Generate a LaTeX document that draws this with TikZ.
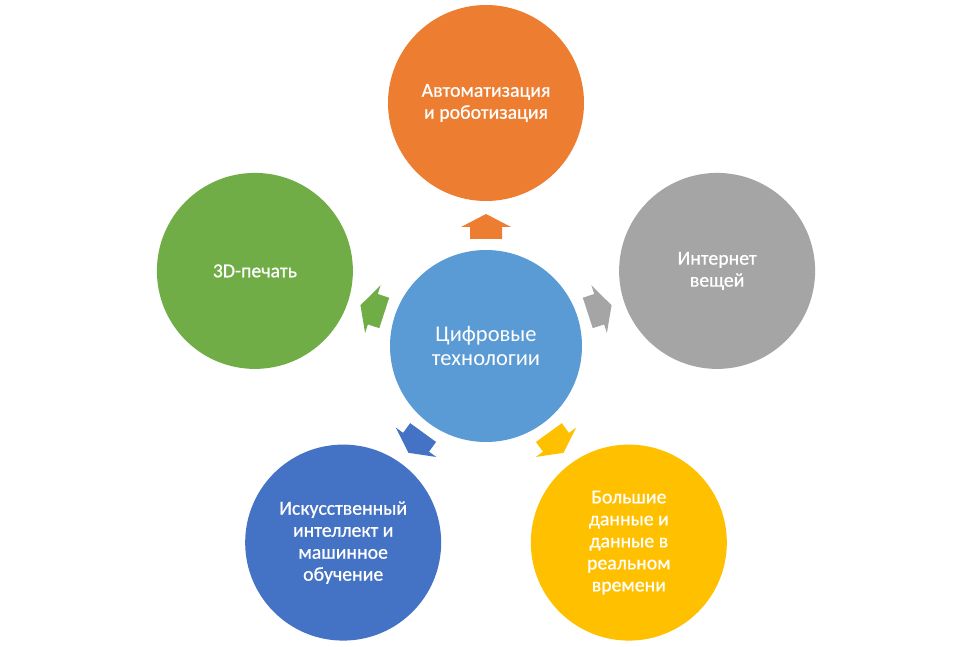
\documentclass[tikz,border=0pt]{standalone}
\usepackage{fontspec}
\setmainfont{Carlito}[BoldFont=Carlito, BoldFeatures={FakeBold=0.7}]
\usetikzlibrary{calc}
\begin{document}
\begin{tikzpicture}[x=1pt,y=1pt,
  bub/.style={circle, inner sep=0pt, minimum size=196pt, text=white, align=center,
    font=\fontsize{19.8}{22}\selectfont\bfseries},
  hub/.style={circle, inner sep=0pt, minimum size=192pt, text=white, align=center,
    font=\fontsize{22.5}{23.5}\selectfont, fill=cCenter},
  blockarrow/.style={fill=#1, draw=none}
]
\definecolor{cCenter}{HTML}{5B9BD5}
\definecolor{cOrange}{HTML}{ED7D31}
\definecolor{cGray}{HTML}{A5A5A5}
\definecolor{cGreen}{HTML}{70AD47}
\definecolor{cBlue}{HTML}{4472C4}
\definecolor{cYellow}{HTML}{FFC000}
\useasboundingbox (0,0) rectangle (971,646);
\fill[white] (0,0) rectangle (971,646);

\node[hub] (c) at (486,300) {Цифровые\\технологии};

\node[bub, fill=cOrange] (o) at ($(c.center)+(90:243)$) {Автоматизация\\и роботизация};
\node[bub, fill=cGray]   (g) at ($(c.center)+(18:243)$) {Интернет\\вещей};
\node[bub, fill=cGreen]  (p) at ($(c.center)+(162:243)$) {3D-печать};
\node[bub, fill=cBlue]   (a) at ($(c.center)+(234:243)$) {Искусственный\\интеллект и\\машинное\\обучение};
\node[bub, fill=cYellow] (b) at ($(c.center)+(306:243)$) {Большие\\данные и\\данные в\\реальном\\времени};

\foreach \ang/\col in {90/cOrange, 18/cGray, 162/cGreen, 234/cBlue, 306/cYellow}{
  \begin{scope}[shift={(c.center)}, rotate=\ang]
    \fill[blockarrow=\col] (107,16) -- (119,16) -- (119,25) -- (132,0) -- (119,-25) -- (119,-16) -- (107,-16) -- cycle;
  \end{scope}
}
\end{tikzpicture}
\end{document}
